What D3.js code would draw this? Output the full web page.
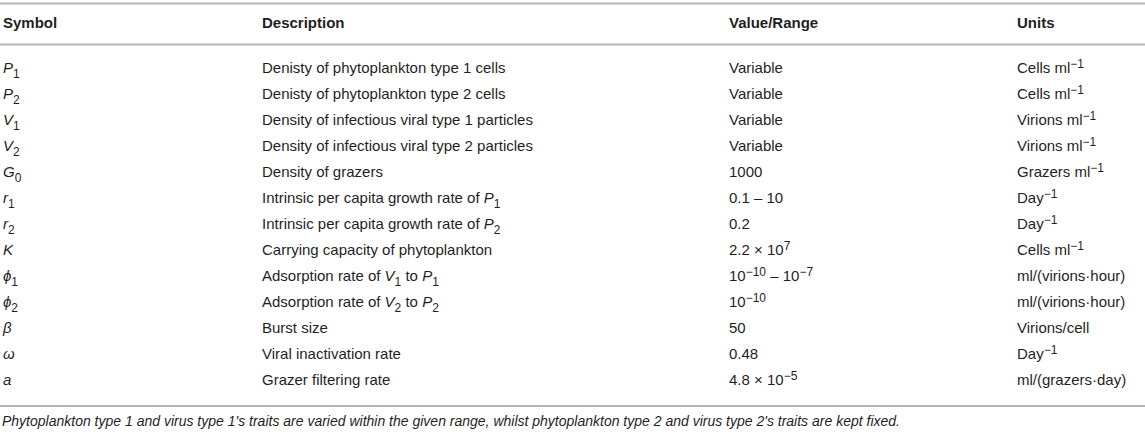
<!DOCTYPE html>
<html>
  <head>
    <meta charset="utf-8">
    <title>Model parameters</title>
    <script type="text/javascript" src="https://d3js.org/d3.v7.min.js"></script>
    <style>
      body { margin: 0; background: #fff; }
      text { font-family: "Liberation Sans", Arial, sans-serif; fill: #1f1f1f; }
    </style>
  </head>
  <body>
    <div id="chart"></div>
    <script type="text/javascript">
        // markup: *italic*, _{sub}, ^{sup}
        var headers = ["Symbol", "Description", "Value/Range", "Units"];
        var symbols = ["*P*_{1}", "*P*_{2}", "*V*_{1}", "*V*_{2}", "*G*_{0}", "*r*_{1}", "*r*_{2}",
                       "*K*", "*ϕ*_{1}", "*ϕ*_{2}", "*β*", "*ω*", "*a*"];
        var descriptions = [
            "Denisty of phytoplankton type 1 cells",
            "Denisty of phytoplankton type 2 cells",
            "Density of infectious viral type 1 particles",
            "Density of infectious viral type 2 particles",
            "Density of grazers",
            "Intrinsic per capita growth rate of *P*_{1}",
            "Intrinsic per capita growth rate of *P*_{2}",
            "Carrying capacity of phytoplankton",
            "Adsorption rate of *V*_{1} to *P*_{1}",
            "Adsorption rate of *V*_{2} to *P*_{2}",
            "Burst size",
            "Viral inactivation rate",
            "Grazer filtering rate"
        ];
        var values = ["Variable", "Variable", "Variable", "Variable", "1000", "0.1 – 10", "0.2",
                      "2.2 × 10^{7}", "10^{−10} – 10^{−7}", "10^{−10}", "50", "0.48", "4.8 × 10^{−5}"];
        var units = ["Cells ml^{−1}", "Cells ml^{−1}", "Virions ml^{−1}", "Virions ml^{−1}",
                     "Grazers ml^{−1}", "Day^{−1}", "Day^{−1}", "Cells ml^{−1}",
                     "ml/(virions·hour)", "ml/(virions·hour)", "Virions/cell", "Day^{−1}",
                     "ml/(grazers·day)"];
        var footnote = "Phytoplankton type 1 and virus type 1's traits are varied within the given range, whilst phytoplankton type 2 and virus type 2's traits are kept fixed.";

        var width = 1145, height = 441;
        var fontSize = 15;

        var rows = symbols.map(function(s, i) {
            return [s, descriptions[i], values[i], units[i]];
        });

        var x = d3.scaleOrdinal().domain(d3.range(4)).range([3, 262, 729, 1017]);
        var y = d3.scalePoint().domain(d3.range(rows.length)).range([73, 385]);

        var svg = d3.select("#chart").append("svg")
            .attr("width", width)
            .attr("height", height);

        function parse(str) {
            var re = /\*([^*]+)\*|_\{([^}]+)\}|\^\{([^}]+)\}|([^*_^]+)/g, m, out = [];
            while ((m = re.exec(str)) !== null) {
                if (m[1]) out.push({t: m[1], it: true});
                else if (m[2]) out.push({t: m[2], shift: 4.5});
                else if (m[3]) out.push({t: m[3], shift: -5.5});
                else out.push({t: m[4]});
            }
            return out;
        }

        function rich(sel, str) {
            var cur = 0;
            parse(str).forEach(function(seg) {
                var target = seg.shift || 0;
                var ts = sel.append("tspan")
                    .attr("dy", target - cur)
                    .text(seg.t);
                if (seg.it) ts.style("font-style", "italic");
                if (seg.shift) ts.style("font-size", (fontSize * 0.8) + "px");
                cur = target;
            });
        }

        // rules
        svg.selectAll("line.rule")
            .data([3.5, 44.5, 406])
            .enter().append("line")
            .attr("class", "rule")
            .attr("x1", 0).attr("x2", width)
            .attr("y1", function(d) { return d; })
            .attr("y2", function(d) { return d; })
            .style("stroke", "#b4b4b4")
            .style("stroke-width", 2);

        // header
        svg.selectAll("text.head")
            .data(headers)
            .enter().append("text")
            .attr("class", "head")
            .attr("x", function(d, i) { return x(i); })
            .attr("y", 28)
            .style("font-size", fontSize + "px")
            .style("font-weight", "bold")
            .text(function(d) { return d; });

        // body cells
        var rowG = svg.selectAll("g.row")
            .data(rows)
            .enter().append("g")
            .attr("class", "row")
            .attr("transform", function(d, i) { return "translate(0," + y(i) + ")"; });

        rowG.selectAll("text")
            .data(function(d) { return d; })
            .enter().append("text")
            .attr("x", function(d, i) { return x(i); })
            .attr("y", 0)
            .style("font-size", fontSize + "px")
            .each(function(d) { rich(d3.select(this), d); });

        svg.append("text")
            .attr("x", 2)
            .attr("y", 426)
            .style("font-size", "14px")
            .style("font-style", "italic")
            .text(footnote);
    </script>
  </body>
</html>
